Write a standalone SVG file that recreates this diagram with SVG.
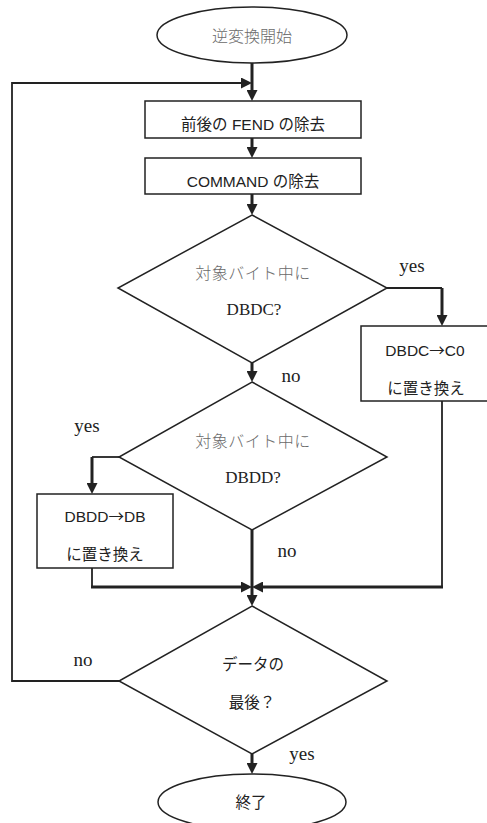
<svg xmlns="http://www.w3.org/2000/svg" width="487" height="823" viewBox="0 0 487 823">
<style>
.shape{fill:#fff;stroke:#222;stroke-width:1.5}
.thick{fill:none;stroke:#222;stroke-width:3}
.thin{fill:none;stroke:#222;stroke-width:1.8}
.g{font-family:"Liberation Sans","Noto Sans CJK JP",sans-serif;font-size:15.5px;fill:#222;text-anchor:middle}
.ar{font-family:"Noto Sans CJK JP",sans-serif}
.m{font-family:"Noto Sans CJK JP",sans-serif;font-size:16px;font-weight:300;fill:#6a6a6a;text-anchor:middle}
.s{font-family:"Liberation Serif",serif;font-size:17px;fill:#222;text-anchor:middle}
.lbl{font-family:"Liberation Serif",serif;font-size:19px;fill:#222;text-anchor:middle}
</style>
<defs>
<marker id="ah" markerUnits="userSpaceOnUse" markerWidth="11" markerHeight="11" refX="6" refY="5.5" orient="auto">
<path d="M0,0 L11,5.5 L0,11 z" fill="#222"/>
</marker>
</defs>
<g id="connectors">
<line class="thick" x1="252" y1="63" x2="252" y2="96" marker-end="url(#ah)"/>
<polyline class="thin" points="119,681 12,681 12,83 247,83" marker-end="url(#ah)"/>
<line class="thick" x1="252" y1="138" x2="252" y2="153" marker-end="url(#ah)"/>
<line class="thick" x1="252" y1="194" x2="252" y2="210" marker-end="url(#ah)"/>
<polyline class="thin" points="387,288 442,288"/>
<line class="thick" x1="442" y1="288" x2="442" y2="321" marker-end="url(#ah)"/>
<line class="thick" x1="252" y1="363" x2="252" y2="377" marker-end="url(#ah)"/>
<polyline class="thin" points="119,457 92,457"/>
<line class="thick" x1="92" y1="457" x2="92" y2="489" marker-end="url(#ah)"/>
<line class="thin" x1="92" y1="568" x2="92" y2="587"/>
<line class="thick" x1="91" y1="587" x2="247" y2="587" marker-end="url(#ah)"/>
<line class="thin" x1="442" y1="401" x2="442" y2="587"/>
<line class="thick" x1="443" y1="587" x2="257" y2="587" marker-end="url(#ah)"/>
<line class="thick" x1="252" y1="530" x2="252" y2="601" marker-end="url(#ah)"/>
<line class="thick" x1="252" y1="754" x2="252" y2="769" marker-end="url(#ah)"/>
</g>
<g id="start">
<ellipse class="shape" cx="252" cy="35" rx="95" ry="28"/>
<text class="m" x="252" y="42">逆変換開始</text>
</g>
<g id="box1">
<rect class="shape" x="145" y="101" width="216" height="37"/>
<text class="g" x="253" y="130">前後の FEND の除去</text>
</g>
<g id="box2">
<rect class="shape" x="145" y="158" width="216" height="36"/>
<text class="g" x="253" y="187">COMMAND の除去</text>
</g>
<g id="d1">
<polygon class="shape" points="252,215 387,288 252,363 118,288"/>
<text class="m" x="253" y="279" letter-spacing="0.5">対象バイト中に</text>
<text class="s" x="254" y="315">DBDC?</text>
</g>
<g id="box3">
<rect class="shape" x="361" y="326" width="128" height="75"/>
<text class="g" x="425" y="356">DBDC<tspan class="ar">→</tspan>C0</text>
<text class="g" x="426" y="394">に置き換え</text>
</g>
<g id="d2">
<polygon class="shape" points="252,382 387,457 252,530 119,457"/>
<text class="m" x="253" y="447" letter-spacing="0.5">対象バイト中に</text>
<text class="s" x="253" y="483">DBDD?</text>
</g>
<g id="box4">
<rect class="shape" x="37" y="494" width="136" height="74"/>
<text class="g" x="105" y="522">DBDD<tspan class="ar">→</tspan>DB</text>
<text class="g" x="105" y="560">に置き換え</text>
</g>
<g id="d3">
<polygon class="shape" points="252,606 387,681 252,754 119,681"/>
<text class="g" x="253" y="670">データの</text>
<text class="g" x="252" y="708">最後？</text>
</g>
<g id="end">
<ellipse class="shape" cx="252" cy="802" rx="94" ry="28"/>
<text class="g" x="251" y="808" font-size="16">終了</text>
</g>
<g id="labels">
<text class="lbl" x="412" y="272">yes</text>
<text class="lbl" x="291" y="382">no</text>
<text class="lbl" x="87" y="432">yes</text>
<text class="lbl" x="287" y="557">no</text>
<text class="lbl" x="83" y="666">no</text>
<text class="lbl" x="302" y="760">yes</text>
</g>
</svg>
